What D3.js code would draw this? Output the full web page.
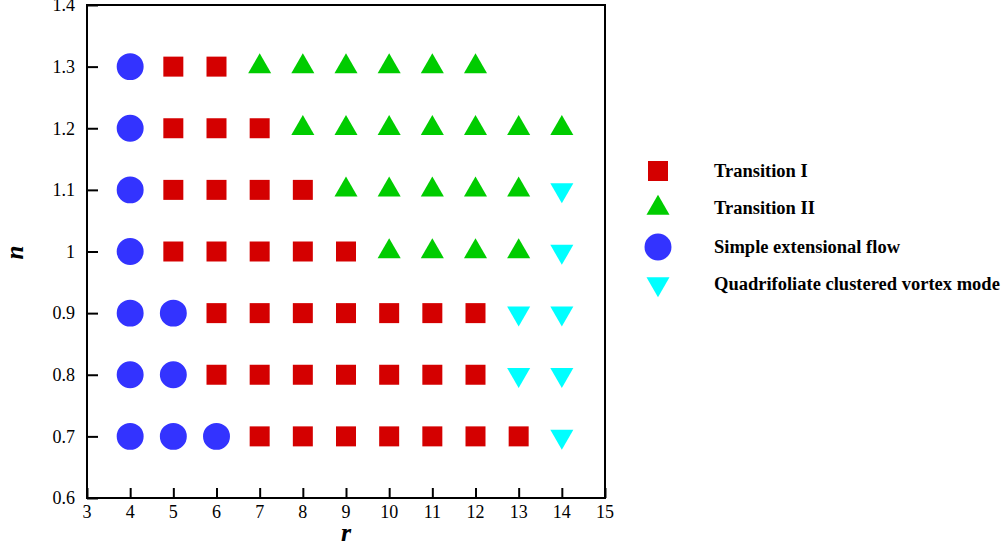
<!DOCTYPE html>
<html>
<head>
<meta charset="utf-8">
<script src="https://cdn.jsdelivr.net/npm/d3@7"></script>
<style>
  body { margin: 0; background: #fff; }
  svg text { font-family: "Liberation Serif", "Times New Roman", serif; }
</style>
</head>
<body>
<div id="chart"></div>
<script>
// points per regime, [r, n]
var transition1 = [
  [5, 1.3], [6, 1.3],
  [5, 1.2], [6, 1.2], [7, 1.2],
  [5, 1.1], [6, 1.1], [7, 1.1], [8, 1.1],
  [5, 1.0], [6, 1.0], [7, 1.0], [8, 1.0], [9, 1.0],
  [6, 0.9], [7, 0.9], [8, 0.9], [9, 0.9], [10, 0.9], [11, 0.9], [12, 0.9],
  [6, 0.8], [7, 0.8], [8, 0.8], [9, 0.8], [10, 0.8], [11, 0.8], [12, 0.8],
  [7, 0.7], [8, 0.7], [9, 0.7], [10, 0.7], [11, 0.7], [12, 0.7], [13, 0.7]
];
var transition2 = [
  [7, 1.3], [8, 1.3], [9, 1.3], [10, 1.3], [11, 1.3], [12, 1.3],
  [8, 1.2], [9, 1.2], [10, 1.2], [11, 1.2], [12, 1.2], [13, 1.2], [14, 1.2],
  [9, 1.1], [10, 1.1], [11, 1.1], [12, 1.1], [13, 1.1],
  [10, 1.0], [11, 1.0], [12, 1.0], [13, 1.0]
];
var simpleFlow = [
  [4, 1.3], [4, 1.2], [4, 1.1], [4, 1.0],
  [4, 0.9], [5, 0.9], [4, 0.8], [5, 0.8],
  [4, 0.7], [5, 0.7], [6, 0.7]
];
var quadrifoliate = [
  [14, 1.1], [14, 1.0], [13, 0.9], [14, 0.9], [13, 0.8], [14, 0.8], [14, 0.7]
];

var xTicks = [3, 4, 5, 6, 7, 8, 9, 10, 11, 12, 13, 14, 15];
var yTicks = [0.6, 0.7, 0.8, 0.9, 1.0, 1.1, 1.2, 1.3, 1.4];

var series = [
  {name: "Transition I", data: transition1, shape: d3.symbolSquare, size: 400, color: "#d40000", rot: 0},
  {name: "Transition II", data: transition2, shape: d3.symbolTriangle, size: 230, color: "#00cc00", rot: 0},
  {name: "Simple extensional flow", data: simpleFlow, shape: d3.symbolCircle, size: 570, color: "#3333ff", rot: 0},
  {name: "Quadrifoliate clustered vortex mode", data: quadrifoliate, shape: d3.symbolTriangle, size: 230, color: "#00ffff", rot: 180}
];

var W = 1004, H = 546;
var plot = {left: 87, right: 605, top: 5, bottom: 498};

var svg = d3.select("#chart").append("svg")
    .attr("width", W)
    .attr("height", H);

var x = d3.scaleLinear().domain([3, 15]).range([plot.left, plot.right]);
var y = d3.scaleLinear().domain([0.6, 1.4]).range([plot.bottom, plot.top]);

// frame
svg.append("rect")
    .attr("x", plot.left)
    .attr("y", plot.top)
    .attr("width", plot.right - plot.left)
    .attr("height", plot.bottom - plot.top)
    .attr("fill", "none")
    .attr("stroke", "#000")
    .attr("stroke-width", 2);

var xAxis = svg.append("g")
    .attr("transform", "translate(0," + plot.bottom + ")")
    .call(d3.axisTop(x).tickValues(xTicks).tickSize(10).tickFormat(""));
xAxis.select(".domain").remove();
xAxis.selectAll("line").attr("stroke-width", 2);
svg.append("g").selectAll("text")
    .data(xTicks)
    .enter().append("text")
      .attr("x", function(d) { return x(d); })
      .attr("y", 518)
      .attr("text-anchor", "middle")
      .attr("font-size", 18)
      .text(function(d) { return d; });

var yAxis = svg.append("g")
    .attr("transform", "translate(" + plot.left + ",0)")
    .call(d3.axisRight(y).tickValues(yTicks).tickSize(11).tickFormat(""));
yAxis.select(".domain").remove();
yAxis.selectAll("line").attr("stroke-width", 2);
svg.append("g").selectAll("text")
    .data(yTicks)
    .enter().append("text")
      .attr("x", plot.left - 12)
      .attr("y", function(d) { return y(d); })
      .attr("dy", "0.35em")
      .attr("text-anchor", "end")
      .attr("font-size", 18)
      .text(function(d) { return d3.format("~g")(d); });

// axis titles
svg.append("text")
    .attr("x", x(9))
    .attr("y", 541)
    .attr("text-anchor", "middle")
    .attr("font-size", 26)
    .attr("font-weight", "bold")
    .attr("font-style", "italic")
    .text("r");
svg.append("text")
    .attr("transform", "translate(23," + (y(1.0) + 1) + ") rotate(-90)")
    .attr("text-anchor", "middle")
    .attr("font-size", 25)
    .attr("font-weight", "bold")
    .attr("font-style", "italic")
    .text("n");

// markers
series.forEach(function(s) {
  svg.append("g").selectAll("path")
      .data(s.data)
      .enter().append("path")
        .attr("d", d3.symbol().type(s.shape).size(s.size))
        .attr("transform", function(d) {
          return "translate(" + x(d[0]) + "," + y(d[1]) + ") rotate(" + s.rot + ")";
        })
        .attr("fill", s.color);
});

// legend
var legendY = [171, 208, 247, 284];
var legend = svg.append("g").selectAll("g")
    .data(series)
    .enter().append("g")
      .attr("transform", function(d, i) { return "translate(658," + legendY[i] + ")"; });

legend.append("path")
    .attr("d", function(d) { return d3.symbol().type(d.shape).size(d.size)(); })
    .attr("transform", function(d) { return "rotate(" + d.rot + ")"; })
    .attr("fill", function(d) { return d.color; });

legend.append("text")
    .attr("x", 56)
    .attr("dy", "0.35em")
    .attr("font-size", 18.5)
    .attr("font-weight", "bold")
    .text(function(d) { return d.name; });
</script>
</body>
</html>
